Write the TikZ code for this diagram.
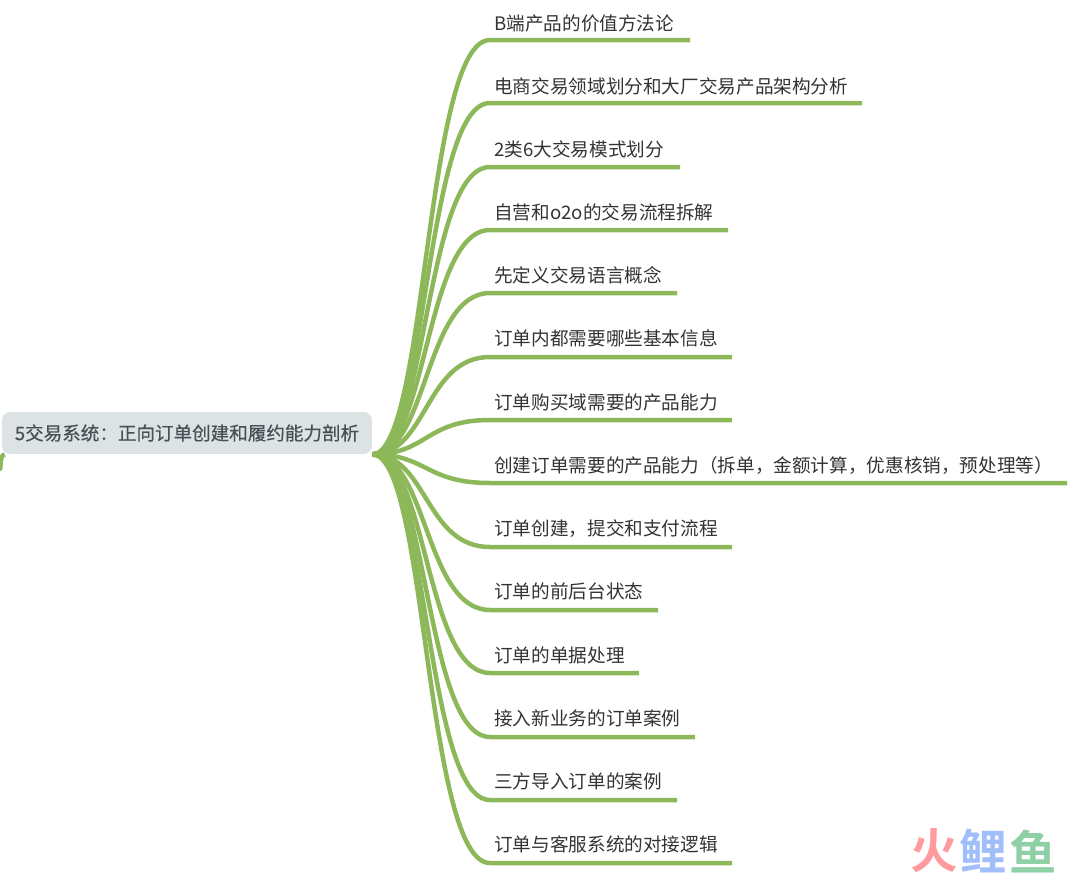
\documentclass[tikz,border=0pt]{standalone}
\usepackage{fontspec}
\setmainfont{Noto Sans CJK SC}
\newfontfamily\rootfont[FakeBold=0.4]{Noto Sans CJK SC}
\newfontfamily\logofont{Noto Sans CJK SC Bold}
\definecolor{branchgreen}{HTML}{8DB85A}
\definecolor{rootfill}{HTML}{DDE2E5}
\definecolor{leaftext}{HTML}{333333}
\definecolor{roottext}{HTML}{4A4F55}
\definecolor{logored}{HTML}{FF9A9E}
\definecolor{logoblue}{HTML}{A0BEFA}
\definecolor{logogreen}{HTML}{8FCFA5}
\tikzset{
    root/.style={fill=rootfill, rounded corners=0.16cm, inner sep=0pt, minimum width=7.4cm, minimum height=0.84cm, text=roottext, font=\rootfont\fontsize{10.56pt}{13pt}\selectfont},
    leaf/.style={anchor=west, inner sep=0pt, text=leaftext, font=\fontsize{10.6pt}{13pt}\selectfont},
    branch/.style={draw=branchgreen, line width=0.09cm, line join=round},
    curve/.style={out=0, in=180, out distance=1.1cm, in distance=1.3cm},
    logo/.style={inner sep=0pt, font=\logofont\fontsize{27pt}{29pt}\selectfont}
}
\begin{document}
\begin{tikzpicture}[x=0.02cm, y=-0.02cm]
    \useasboundingbox (0,0) rectangle (1080,876);
    \node[root] (root) at (187,433) {5交易系统：正向订单创建和履约能力剖析};
    \node[leaf] (t1) at (494,23.5) {B端产品的价值方法论};
    \node[leaf] (t2) at (494,86.5) {电商交易领域划分和大厂交易产品架构分析};
    \node[leaf] (t3) at (494,149.5) {2类6大交易模式划分};
    \node[leaf] (t4) at (494,212.5) {自营和o2o的交易流程拆解};
    \node[leaf] (t5) at (494,275.5) {先定义交易语言概念};
    \node[leaf] (t6) at (494,338.5) {订单内都需要哪些基本信息};
    \node[leaf] (t7) at (494,402.5) {订单购买域需要的产品能力};
    \node[leaf] (t8) at (494,465.5) {创建订单需要的产品能力（拆单，金额计算，优惠核销，预处理等）};
    \node[leaf] (t9) at (494,528.5) {订单创建，提交和支付流程};
    \node[leaf] (t10) at (494,591.5) {订单的前后台状态};
    \node[leaf] (t11) at (494,655.5) {订单的单据处理};
    \node[leaf] (t12) at (494,718.5) {接入新业务的订单案例};
    \node[leaf] (t13) at (494,781.5) {三方导入订单的案例};
    \node[leaf] (t14) at (494,844.5) {订单与客服系统的对接逻辑};
    % underlines
    \coordinate (s1) at (490,40);    \coordinate (e1) at (690,40);
    \coordinate (s2) at (490,103);   \coordinate (e2) at (862,103);
    \coordinate (s3) at (490,167);   \coordinate (e3) at (680,167);
    \coordinate (s4) at (490,230);   \coordinate (e4) at (728,230);
    \coordinate (s5) at (490,293);   \coordinate (e5) at (677,293);
    \coordinate (s6) at (490,357);   \coordinate (e6) at (732,357);
    \coordinate (s7) at (490,420);   \coordinate (e7) at (732,420);
    \coordinate (s8) at (490,483);   \coordinate (e8) at (1067,483);
    \coordinate (s9) at (490,547);   \coordinate (e9) at (732,547);
    \coordinate (s10) at (490,610);  \coordinate (e10) at (658,610);
    \coordinate (s11) at (490,673);  \coordinate (e11) at (639,673);
    \coordinate (s12) at (490,737);  \coordinate (e12) at (695,737);
    \coordinate (s13) at (490,800);  \coordinate (e13) at (677,800);
    \coordinate (s14) at (490,863);  \coordinate (e14) at (732,863);
    \draw[branch] (root.south east) to[curve] (s1) -- (e1);
    \draw[branch] (root.south east) to[curve] (s2) -- (e2);
    \draw[branch] (root.south east) to[curve] (s3) -- (e3);
    \draw[branch] (root.south east) to[curve] (s4) -- (e4);
    \draw[branch] (root.south east) to[curve] (s5) -- (e5);
    \draw[branch] (root.south east) to[curve] (s6) -- (e6);
    \draw[branch] (root.south east) to[curve] (s7) -- (e7);
    \draw[branch] (root.south east) to[curve] (s8) -- (e8);
    \draw[branch] (root.south east) to[curve] (s9) -- (e9);
    \draw[branch] (root.south east) to[curve] (s10) -- (e10);
    \draw[branch] (root.south east) to[curve] (s11) -- (e11);
    \draw[branch] (root.south east) to[curve] (s12) -- (e12);
    \draw[branch] (root.south east) to[curve] (s13) -- (e13);
    \draw[branch] (root.south east) to[curve] (s14) -- (e14);
    % stub under the root
    \coordinate (stub) at (0,468);
    \draw[branch] (root.south west) ++(3,0) to[out=180, in=-80] (stub);
    % watermark
    \node[logo, text=logored] (w1) at (934,851) {火};
    \node[logo, text=logoblue] (w2) at (983.5,851) {鲤};
    \node[logo, text=logogreen] (w3) at (1033,851) {鱼};
\end{tikzpicture}
\end{document}
